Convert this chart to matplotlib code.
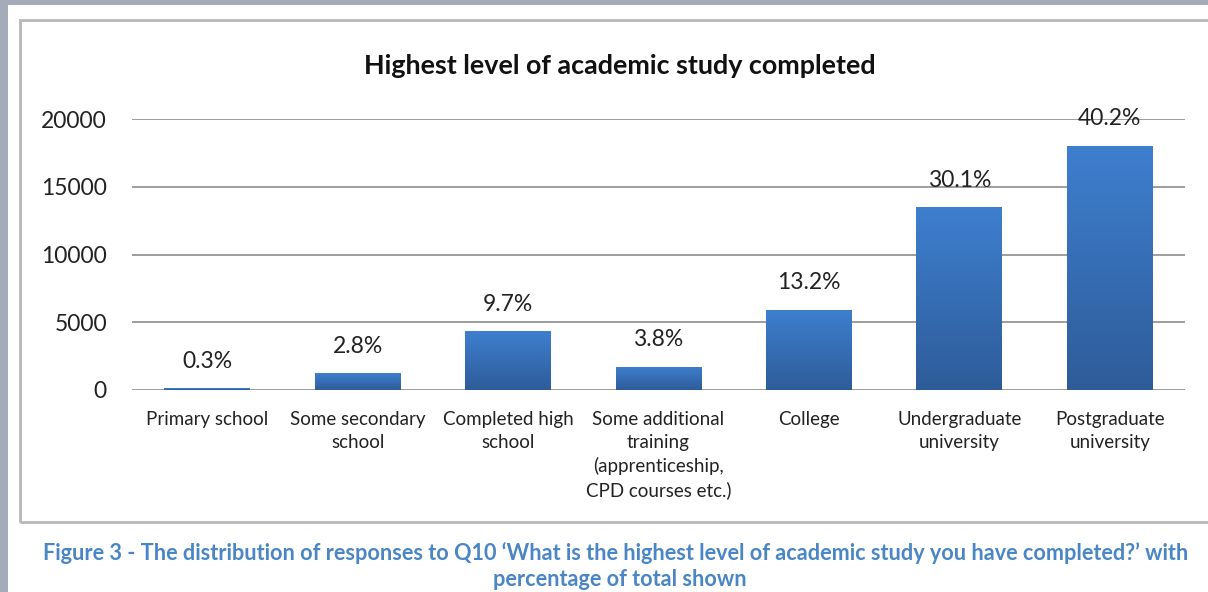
import numpy as np
import matplotlib.pyplot as plt
from matplotlib.patches import Rectangle
from matplotlib.colors import LinearSegmentedColormap

plt.rcParams['font.family'] = ['Lato', 'DejaVu Sans']

# Data
categories = ['Primary school', 'Some secondary\nschool', 'Completed high\nschool',
              'Some additional\ntraining\n(apprenticeship,\nCPD courses etc.)',
              'College', 'Undergraduate\nuniversity', 'Postgraduate\nuniversity']
counts = [134, 1254, 4346, 1702, 5914, 13485, 18010]
percent_labels = ['0.3%', '2.8%', '9.7%', '3.8%', '13.2%', '30.1%', '40.2%']
yticks = [0, 5000, 10000, 15000, 20000]

W, H = 1208, 592
fig = plt.figure(figsize=(W / 100, H / 100), dpi=100, facecolor='#a3acb8')

# white page and chart frame
fig.patches.append(Rectangle((8 / W, 0), 1, 1 - 5 / H, transform=fig.transFigure,
                             facecolor='white', edgecolor='none', zorder=-3))
fig.patches.append(Rectangle((20 / W, 1 - 522 / H), 1.0, (522 - 20) / H,
                             transform=fig.transFigure, facecolor='none',
                             edgecolor='#b8b8b8', linewidth=2, zorder=-2))

ax = fig.add_axes([132 / W, 1 - 390 / H, (1185 - 132) / W, (390 - 119) / H])
ax.set_facecolor('none')

x = np.arange(len(categories))
bars = ax.bar(x, counts, width=0.57, color='#3670b8', zorder=3)

# vertical gradient on each bar
grad = np.linspace(0, 1, 256).reshape(-1, 1)
cmap = LinearSegmentedColormap.from_list('bar', ['#2e5c99', '#3e7fcf'])
for b in bars:
    x0, w, h = b.get_x(), b.get_width(), b.get_height()
    im = ax.imshow(grad, extent=(x0, x0 + w, 0, h), origin='lower', cmap=cmap,
                   aspect='auto', zorder=3.5)
    im.set_clip_path(b)

for xi, c, lab in zip(x, counts, percent_labels):
    ax.annotate(lab, (xi, c), xytext=(0, 27), textcoords='offset pixels',
                ha='center', va='center', fontsize=16.5, color='#222222',
                annotation_clip=False, zorder=5)

ax.set_xlim(-0.5, len(categories) - 0.5)
ax.set_ylim(0, 20000)
ax.set_yticks(yticks)
ax.set_yticklabels([str(t) for t in yticks], fontsize=16.5, color='#222222')
ax.set_xticks(x)
ax.set_xticklabels(categories, fontsize=13.5, color='#222222', linespacing=1.42,
                   va='top')
ax.tick_params(axis='both', length=0)
ax.tick_params(axis='y', pad=18)
ax.tick_params(axis='x', pad=15)
ax.grid(axis='y', color='#8c8c8c', linewidth=1.2, zorder=0)
for s in ax.spines.values():
    s.set_visible(False)

fig.text(620 / W, 1 - 66 / H, 'Highest level of academic study completed',
         ha='center', va='center', fontsize=19.4, fontweight='bold', color='#111111')

fig.text(616 / W, 1 - 553 / H,
         "Figure 3 - The distribution of responses to Q10 \u2018What is the highest level of "
         "academic study you have completed?\u2019 with",
         ha='center', va='center', fontsize=15.6, fontweight='bold', color='#4a86c5')
fig.text(620 / W, 1 - 580 / H, 'percentage of total shown',
         ha='center', va='center', fontsize=15.6, fontweight='bold', color='#4a86c5')

fig.savefig('out.png', dpi=100, facecolor=fig.get_facecolor())
